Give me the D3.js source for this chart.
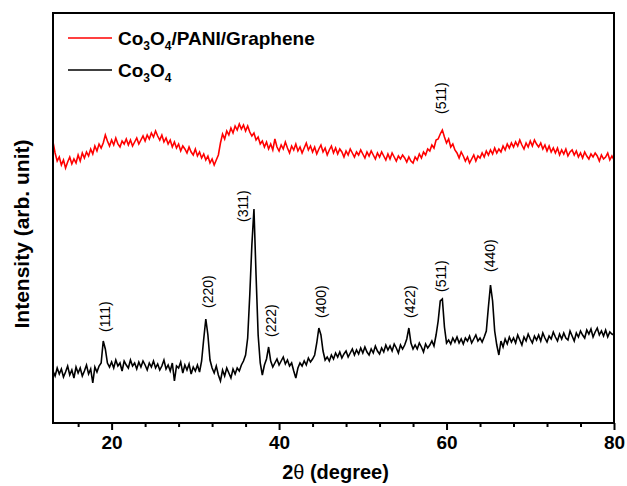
<!DOCTYPE html>
<html>
<head>
<meta charset="utf-8">
<script src="https://cdn.jsdelivr.net/npm/d3@7"></script>
<style>
  body { margin: 0; background: #fff; }
  text { font-family: Arial, "Liberation Sans", sans-serif; }
</style>
</head>
<body>
<div id="my_dataviz"></div>
<script>
// XRD patterns, 2theta 13..80 read every 0.25 degree
var thetaStart = 13, thetaStep = 0.25

// Co3O4 (black), one row per degree
var co3o4 = [
  52, 47, 55, 49,  54, 46, 51, 57,  48, 53, 45, 56,  50, 55, 47, 52,
  58, 49, 54, 40,  56, 51, 57, 60,  82, 74, 60, 56,  61, 55, 63, 57,
  60, 52, 62, 58,  55, 63, 57, 60,  54, 61, 56, 62,  58, 53, 60, 56,
  62, 55, 59, 53,  57, 63, 54, 58,  52, 60, 42, 57,  55, 61, 50, 58,
  53, 59, 49, 56,  52, 58, 51, 62,  84, 104, 88, 63, 55, 50, 57, 48,
  42, 53, 47, 55,  50, 45, 54, 49,  55, 52, 58, 62,  68, 85, 128, 178,
  214, 148, 88, 60, 48, 58, 64, 76, 62, 56, 60, 64,  58, 62, 66, 59,
  63, 57, 60, 52,  45, 55, 60, 57,  62, 58, 65, 61,  64, 68, 80, 95,
  88, 72, 63, 66,  62, 68, 64, 70,  66, 71, 65, 69,  72, 66, 70, 74,
  68, 73, 69, 75,  70, 76, 71, 68,  74, 70, 77, 72,  69, 75, 71, 78,
  73, 77, 72, 79,  75, 70, 78, 74,  78, 84, 95, 80,  74, 78, 74, 80,
  76, 71, 79, 75,  78, 82, 77, 88,  102, 122, 124, 96, 80, 83, 79, 85,
  81, 86, 80, 84,  79, 85, 82, 87,  80, 84, 88, 82,  85, 81, 86, 92,
  116, 138, 122, 92, 78, 68, 82, 76, 84, 79, 86, 81, 85, 80, 88, 83,
  78, 86, 82, 89,  84, 80, 87, 83,  88, 82, 90, 85,  81, 87, 84, 91,
  86, 82, 89, 84,  90, 85, 83, 92,  87, 82, 90, 86,  92, 88, 85, 93,
  89, 94, 86, 91,  95, 88, 92, 87,  93, 86, 91, 89,  88
]

// Co3O4/PANI/Graphene (red)
var composite = [
  281, 270, 262, 266,  258, 263, 255, 261,  266, 259, 264, 260,  268, 262, 270, 265,
  271, 267, 274, 269,  277, 272, 279, 275,  280, 288, 282, 277,  283, 278, 285, 279,
  276, 282, 279, 284,  278, 283, 277, 281,  285, 279, 283, 287,  282, 288, 284, 290,
  286, 292, 287, 283,  288, 281, 285, 279,  283, 276, 281, 275,  279, 272, 277, 274,
  270, 276, 271, 268,  274, 267, 271, 265,  269, 263, 267, 260,  264, 258, 263, 268,
  280, 289, 284, 292,  288, 295, 290, 297,  293, 299, 294, 298,  292, 297, 291, 287,
  290, 283, 286, 279,  282, 276, 281, 274,  279, 273, 284, 276,  272, 278, 274, 281,
  275, 270, 277, 273,  279, 272, 276, 270,  275, 280, 273, 277,  271, 276, 269, 274,
  278, 271, 275, 268,  273, 277, 270, 275,  269, 274, 271, 266,  272, 268, 274, 270,
  266, 271, 268, 273,  269, 265, 271, 267,  272, 268, 264, 270,  266, 271, 267, 263,
  269, 264, 270, 266,  262, 267, 264, 268,  265, 261, 266, 262,  260, 266, 263, 269,
  265, 271, 268, 274,  272, 278, 275, 283,  284, 289, 293, 286,  280, 284, 276, 279,
  273, 270, 265, 271,  267, 262, 266, 260,  264, 268, 262, 267,  265, 270, 266, 272,
  268, 273, 269, 275,  270, 274, 271, 277,  273, 279, 275, 280,  276, 281, 277, 283,
  278, 274, 280, 276,  282, 277, 283, 279,  276, 280, 274, 278,  272, 277, 271, 275,
  270, 275, 268, 273,  269, 274, 267, 271,  273, 268, 272, 266,  270, 265, 271, 267,
  264, 269, 266, 270,  267, 262, 268, 264,  266, 270, 263, 267,  263
]

// hkl labels: where they sit (2theta, intensity)
var hklText = ["(111)", "(220)", "(311)", "(222)", "(400)", "(422)", "(511)", "(440)", "(511)"]
var hklTheta = [19.2, 31.5, 35.7, 39.1, 45.0, 55.6, 59.4, 65.2, 59.3]
var hklIntensity = [91, 115, 201, 86, 105, 105, 131, 151, 309]

var majorTicks = [20, 40, 60, 80]
var minorTicks = [16, 24, 28, 32, 36, 44, 48, 52, 56, 64, 68, 72, 76]

var width = 627, height = 486
var margin = { top: 13, right: 13, bottom: 63, left: 53 }

var svg = d3.select("#my_dataviz")
  .append("svg")
  .attr("width", width)
  .attr("height", height)

var x = d3.scaleLinear().domain([13, 80]).range([margin.left, width - margin.right])
var y = d3.scaleLinear().domain([0, 410]).range([height - margin.bottom, margin.top])

function toPoints(arr) {
  return arr.map(function (v, i) { return [thetaStart + i * thetaStep, v] })
}

var line = d3.line()
  .x(function (d) { return x(d[0]) })
  .y(function (d) { return y(d[1]) })

svg.append("path")
  .datum(toPoints(composite))
  .attr("fill", "none")
  .attr("stroke", "#ff0000")
  .attr("stroke-width", 1.6)
  .attr("d", line)

svg.append("path")
  .datum(toPoints(co3o4))
  .attr("fill", "none")
  .attr("stroke", "#000")
  .attr("stroke-width", 1.6)
  .attr("d", line)

// peak labels, rotated
svg.selectAll("hkl")
  .data(hklText)
  .enter()
  .append("text")
  .attr("transform", function (d, i) {
    return "translate(" + x(hklTheta[i]) + "," + y(hklIntensity[i]) + ") rotate(-90)"
  })
  .attr("dy", "0.35em")
  .style("font-size", "14px")
  .text(function (d) { return d })

// frame
svg.append("rect")
  .attr("x", x(13)).attr("y", y(410))
  .attr("width", x(80) - x(13)).attr("height", y(0) - y(410))
  .attr("fill", "none").attr("stroke", "#000").attr("stroke-width", 2)

// x axis
var xAxis = svg.append("g")
  .attr("transform", "translate(0," + y(0) + ")")
  .call(d3.axisBottom(x).tickValues(majorTicks).tickSize(7).tickSizeOuter(0).tickPadding(6))
xAxis.select(".domain").remove()
xAxis.selectAll("line").attr("stroke-width", 2)
xAxis.selectAll("text")
  .style("font-size", "19px").style("font-weight", "bold")
  .style("font-family", "Arial, 'Liberation Sans', sans-serif")
  .attr("fill", "#000")

var xMinor = svg.append("g")
  .attr("transform", "translate(0," + y(0) + ")")
  .call(d3.axisBottom(x).tickValues(minorTicks).tickSize(4).tickSizeOuter(0).tickFormat(""))
xMinor.select(".domain").remove()
xMinor.selectAll("line").attr("stroke-width", 2)

// axis titles
var xTitle = svg.append("text")
  .attr("x", (x(13) + x(80)) / 2 + 2)
  .attr("y", 479)
  .attr("text-anchor", "middle")
  .style("font-size", "20px").style("font-weight", "bold")
xTitle.append("tspan").text("2")
xTitle.append("tspan").style("font-weight", "normal").text("θ")
xTitle.append("tspan").text(" (degree)")

svg.append("text")
  .attr("transform", "translate(29," + 234 + ") rotate(-90)")
  .attr("text-anchor", "middle")
  .style("font-size", "21px").style("font-weight", "bold")
  .text("Intensity (arb. unit)")

// legend
var legendNames = [["Co", "3", "O", "4", "/PANI/Graphene"], ["Co", "3", "O", "4", ""]]
var legendColors = ["#ff0000", "#000"]
var legend = svg.selectAll("legend")
  .data(legendNames)
  .enter()
  .append("g")
  .attr("transform", function (d, i) { return "translate(68," + (38 + i * 32) + ")" })

legend.append("line")
  .attr("x1", 0).attr("x2", 44)
  .attr("stroke", function (d, i) { return legendColors[i] })
  .attr("stroke-width", 1.5)

legend.append("text")
  .attr("x", 50).attr("y", 7)
  .style("font-size", "19px").style("font-weight", "bold")
  .each(function (d) {
    var t = d3.select(this)
    d.forEach(function (s, k) {
      if (s === "") return
      var sp = t.append("tspan").text(s)
      if (k % 2 === 1) sp.style("font-size", "12px").attr("dy", 5)
      else if (k > 0) sp.attr("dy", -5)
    })
  })
</script>
</body>
</html>
